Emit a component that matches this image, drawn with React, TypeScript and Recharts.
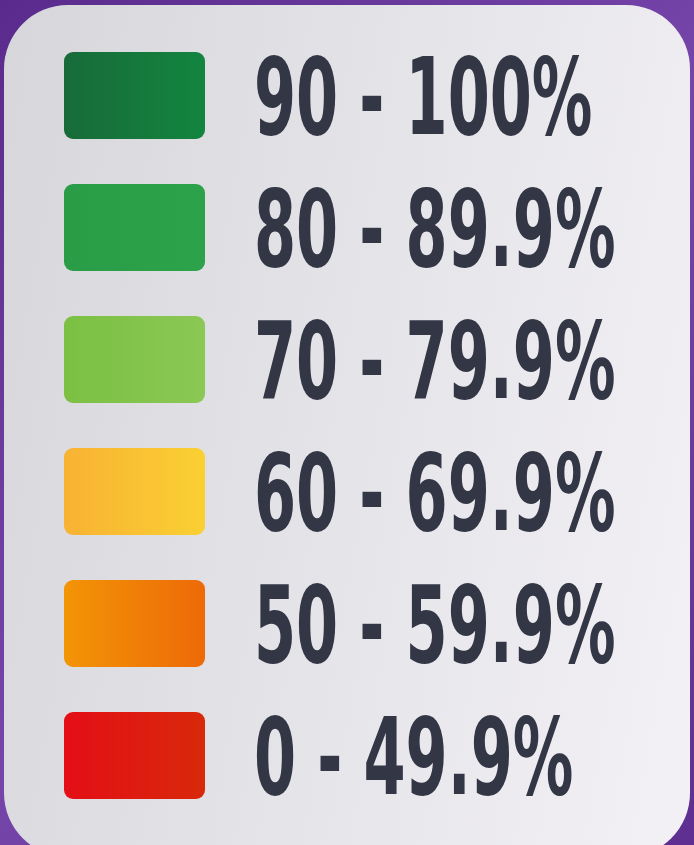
import React from 'react';
import { BarChart, Bar, XAxis, YAxis, LabelList } from 'recharts';

const ranges = ['90 - 100%', '80 - 89.9%', '70 - 79.9%', '60 - 69.9%', '50 - 59.9%', '0 - 49.9%'];
const swatchFrom = ['#186b39', '#2a9c47', '#7bc043', '#f8b233', '#f39406', '#e40e16'];
const swatchTo = ['#12853f', '#2ca34a', '#8bc855', '#fad033', '#ed6a07', '#d8290a'];
const swatch = [1, 1, 1, 1, 1, 1];

const data = ranges.map((range, i) => ({ range, swatch: swatch[i] }));

const Swatch = (props: any) => {
  const { x, y, width, height, index } = props;
  return <rect x={x} y={y} width={width} height={height} rx={9} ry={9} fill={`url(#sw${index})`} />;
};

const RangeLabel = (props: any) => {
  const { x, y, width, height, value } = props;
  const tx = x + width + 49;
  const ty = y + height / 2 + 39;
  return (
    <text
      x={tx}
      y={ty}
      transform={`translate(${tx} 0) scale(0.635 1) translate(${-tx} 0)`}
      fontFamily="'DejaVu Sans Condensed', 'DejaVu Sans', sans-serif"
      fontWeight={700}
      fontSize={106}
      fill="#323645"
    >
      {value}
    </text>
  );
};

export default function App() {
  return (
    <div style={{ position: 'relative', width: 694, height: 845, overflow: 'hidden', background: 'linear-gradient(135deg, #5a2b8c, #7645aa 50%, #5e2f90)' }}>
      <style>{'body{margin:0}'}</style>
      <div
        style={{
          position: 'absolute',
          left: 4,
          top: 5,
          width: 686,
          height: 852,
          borderRadius: 64,
          background: 'linear-gradient(100deg, #d6d6db 0%, #e6e5ea 55%, #f3f1f5 100%)',
        }}
      />
      <div style={{ position: 'absolute', left: 0, top: 0 }}>
        <BarChart
          width={694}
          height={845}
          data={data}
          layout="vertical"
          margin={{ top: 29, right: 489, bottom: 24, left: 64 }}
        >
          <defs>
            {ranges.map((r, i) => (
              <linearGradient key={r} id={`sw${i}`} x1="0" y1="0" x2="1" y2="0">
                <stop offset="0%" stopColor={swatchFrom[i]} />
                <stop offset="100%" stopColor={swatchTo[i]} />
              </linearGradient>
            ))}
          </defs>
          <XAxis type="number" domain={[0, 1]} hide />
          <YAxis type="category" dataKey="range" hide />
          <Bar dataKey="swatch" barSize={87} shape={<Swatch />} isAnimationActive={false}>
            <LabelList dataKey="range" content={<RangeLabel />} />
          </Bar>
        </BarChart>
      </div>
    </div>
  );
}
